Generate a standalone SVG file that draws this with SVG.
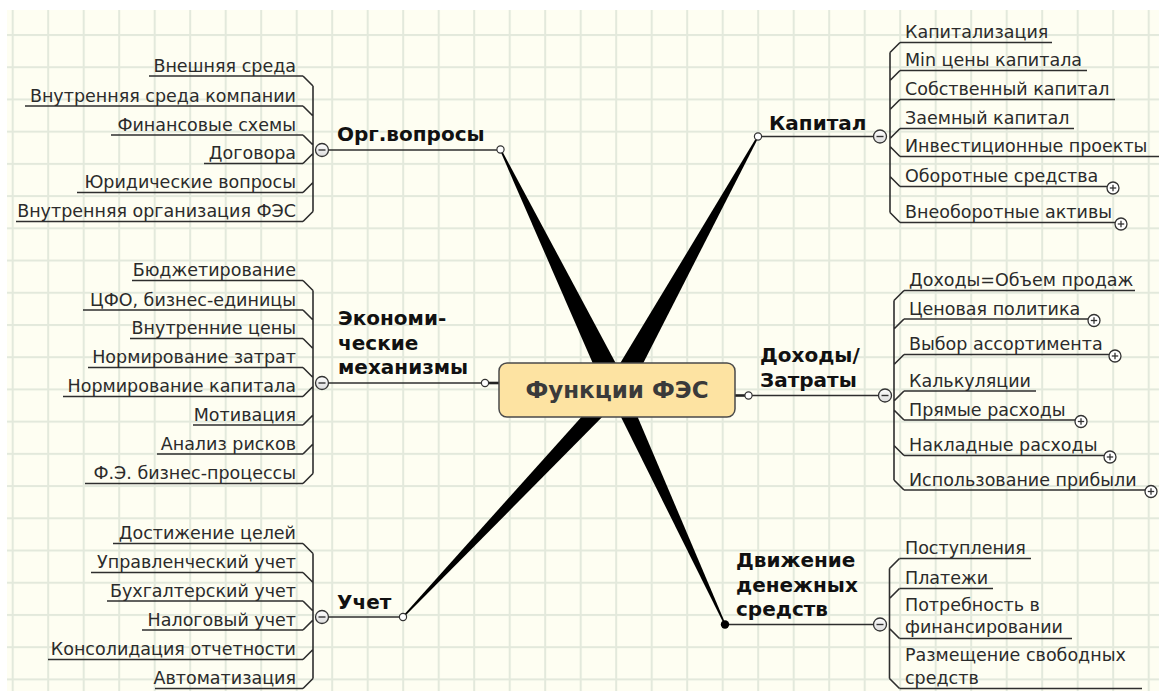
<svg xmlns="http://www.w3.org/2000/svg" width="1159" height="691" viewBox="0 0 1159 691">
  <defs>
    <pattern id="grid" x="11.7" y="34" width="35.5" height="32.22" patternUnits="userSpaceOnUse">
      <rect width="35.5" height="32.22" fill="#fefef2"/>
      <rect x="0" y="0" width="2" height="32.22" fill="#e3e9dc"/>
      <rect x="0" y="0" width="35.5" height="2" fill="#e3e9dc"/>
    </pattern>
    <linearGradient id="toggleFill" x1="0" y1="0" x2="0" y2="1">
      <stop offset="0" stop-color="#ffffff"/>
      <stop offset="1" stop-color="#dcdcdc"/>
    </linearGradient>
    <g id="collapse">
      <circle r="6.5" fill="url(#toggleFill)" stroke="#333" stroke-width="1.3"/>
      <line x1="-3.5" y1="0" x2="3.5" y2="0" stroke="#333" stroke-width="1.4"/>
    </g>
    <g id="expand">
      <circle r="6" fill="#ffffff" stroke="#333" stroke-width="1.3"/>
      <line x1="-3.2" y1="0" x2="3.2" y2="0" stroke="#333" stroke-width="1.3"/>
      <line x1="0" y1="-3.2" x2="0" y2="3.2" stroke="#333" stroke-width="1.3"/>
    </g>
    <circle id="joint" r="3.6" fill="#ffffff" stroke="#333" stroke-width="1.2"/>
  </defs>
  <style>
    .sub { font-family: "DejaVu Sans", Verdana, sans-serif; font-size: 17.5px; fill: #2b2b2b; }
    .head { font-family: "DejaVu Sans", Verdana, sans-serif; font-size: 20px; font-weight: bold; fill: #111111; }
    .core { font-family: "DejaVu Sans", Verdana, sans-serif; font-size: 23px; font-weight: bold; fill: #3a3a3a; }
    .ul { stroke: #2e2e2e; stroke-width: 1.6; fill: none; }
    .link { stroke: #2e2e2e; stroke-width: 1.6; fill: none; }
    .spoke { fill: #000000; }
    .stub { stroke: #222; stroke-width: 2.6; }
    .l { text-anchor: end; }
  </style>

  <!-- background sheet -->
  <rect width="1159" height="691" fill="#ffffff"/>
  <rect x="7" y="10" width="1152" height="681" fill="url(#grid)"/>

  <!-- connectors -->
  <g id="connectors">
    <!-- tapered spokes from the central topic -->
    <polygon class="spoke" points="627.4,385 501.2,149.2 499.8,149.8 606.6,395"/>
    <polygon class="spoke" points="626.7,395.4 758.7,136.9 757.3,136.1 607.3,384.6"/>
    <polygon class="spoke" points="623.2,395.8 403.6,617.6 402.4,616.4 610.8,384.2"/>
    <polygon class="spoke" points="624.7,386.4 725.7,624.2 724.3,624.8 609.3,393.6"/>
    <line class="stub" x1="488" y1="383" x2="500" y2="383"/>
    <line class="stub" x1="734" y1="395.5" x2="745.5" y2="395.5"/>

    <!-- main topic lines -->
    <line class="link" x1="328" y1="150" x2="497" y2="150"/>
    <line class="link" x1="328" y1="383" x2="481.5" y2="383"/>
    <line class="link" x1="328" y1="617" x2="399.5" y2="617"/>
    <line class="link" x1="761.5" y1="136.5" x2="873.5" y2="136.5"/>
    <line class="link" x1="752" y1="395.5" x2="878.5" y2="395.5"/>
    <line class="link" x1="725" y1="624.5" x2="873.5" y2="624.5"/>

    <!-- Орг.вопросы bracket -->
    <path class="link" d="M313,86 V211.5 M303,76 L313,86 M303,106 L313,116 M303,135 L313,145 M303,163.5 L313,153.5 M303,192.5 L313,182.5 M303,221.5 L313,211.5"/>
    <!-- Экономические механизмы bracket -->
    <path class="link" d="M313,290.5 V473.5 M303,280.5 L313,290.5 M303,310 L313,320 M303,338.5 L313,348.5 M303,367.5 L313,377.5 M303,396.5 L313,386.5 M303,425 L313,415 M303,454 L313,444 M303,483.5 L313,473.5"/>
    <!-- Учет bracket -->
    <path class="link" d="M313,553.5 V678.5 M303,543.5 L313,553.5 M303,572.5 L313,582.5 M303,601 L313,611 M303,630 L313,620 M303,659.5 L313,649.5 M303,688.5 L313,678.5"/>
    <!-- Капитал bracket -->
    <path class="link" d="M890,52.5 V212.5 M900,42.5 L890,52.5 M900,70.5 L890,80.5 M900,99.5 L890,109.5 M900,128.5 L890,138.5 M900,156.5 L890,146.5 M900,186.5 L890,176.5 M900,222.5 L890,212.5"/>
    <!-- Доходы/Затраты bracket -->
    <path class="link" d="M894,300.5 V480 M904,290.5 L894,300.5 M904,319 L894,329 M904,354.5 L894,364.5 M904,391 L894,401 M904,420 L894,410 M904,455.5 L894,445.5 M904,490 L894,480"/>
    <!-- Движение денежных средств bracket -->
    <path class="link" d="M889.5,568.5 V678.5 M899.5,558.5 L889.5,568.5 M899.5,588.5 L889.5,598.5 M899.5,638.5 L889.5,628.5 M899.5,688.5 L889.5,678.5"/>

    <!-- joints at the spoke ends -->
    <use href="#joint" x="500.5" y="149.5"/>
    <use href="#joint" x="485" y="383"/>
    <use href="#joint" x="403" y="617"/>
    <use href="#joint" x="758" y="136.5"/>
    <use href="#joint" x="748.5" y="395.5"/>
    <circle cx="725" cy="624.5" r="4.2" fill="#000"/>
  </g>

  <!-- central topic -->
  <g id="central">
    <rect x="499" y="363" width="236" height="54" rx="8" fill="#fde3a2" stroke="#4a4a4a" stroke-width="1.5"/>
    <text class="core" x="617" y="398" text-anchor="middle">Функции ФЭС</text>
  </g>

  <!-- main topics -->
  <g id="topic-org">
    <text class="head" x="337" y="141">Орг.вопросы</text>
    <use href="#collapse" x="322" y="150"/>
  </g>
  <g id="topic-econ">
    <text class="head" x="338" y="325">Экономи-</text>
    <text class="head" x="338" y="349.5">ческие</text>
    <text class="head" x="338" y="374">механизмы</text>
    <use href="#collapse" x="322" y="383"/>
  </g>
  <g id="topic-uchet">
    <text class="head" x="337" y="608.5">Учет</text>
    <use href="#collapse" x="322" y="617"/>
  </g>
  <g id="topic-capital">
    <text class="head" x="769" y="129.5">Капитал</text>
    <use href="#collapse" x="880" y="136.5"/>
  </g>
  <g id="topic-income">
    <text class="head" x="760" y="362">Доходы/</text>
    <text class="head" x="760" y="387">Затраты</text>
    <use href="#collapse" x="885" y="395.5"/>
  </g>
  <g id="topic-cash">
    <text class="head" x="736" y="567">Движение</text>
    <text class="head" x="736" y="591.5">денежных</text>
    <text class="head" x="736" y="615.5">средств</text>
    <use href="#collapse" x="880" y="624.5"/>
  </g>

  <!-- subtopics: Орг.вопросы -->
  <g id="org-1"><text class="sub l" x="296" y="71.5">Внешняя среда</text><line class="ul" x1="149" y1="76" x2="303" y2="76"/></g>
  <g id="org-2"><text class="sub l" x="296" y="101.5">Внутренняя среда компании</text><line class="ul" x1="25" y1="106" x2="303" y2="106"/></g>
  <g id="org-3"><text class="sub l" x="296" y="130.5">Финансовые схемы</text><line class="ul" x1="111" y1="135" x2="303" y2="135"/></g>
  <g id="org-4"><text class="sub l" x="296" y="159">Договора</text><line class="ul" x1="204" y1="163.5" x2="303" y2="163.5"/></g>
  <g id="org-5"><text class="sub l" x="296" y="188">Юридические вопросы</text><line class="ul" x1="77" y1="192.5" x2="303" y2="192.5"/></g>
  <g id="org-6"><text class="sub l" x="296" y="217">Внутренняя организация ФЭС</text><line class="ul" x1="16" y1="221.5" x2="303" y2="221.5"/></g>

  <!-- subtopics: Экономические механизмы -->
  <g id="econ-1"><text class="sub l" x="296" y="276">Бюджетирование</text><line class="ul" x1="132" y1="280.5" x2="303" y2="280.5"/></g>
  <g id="econ-2"><text class="sub l" x="296" y="305.5">ЦФО, бизнес-единицы</text><line class="ul" x1="83" y1="310" x2="303" y2="310"/></g>
  <g id="econ-3"><text class="sub l" x="296" y="334">Внутренние цены</text><line class="ul" x1="130" y1="338.5" x2="303" y2="338.5"/></g>
  <g id="econ-4"><text class="sub l" x="296" y="363">Нормирование затрат</text><line class="ul" x1="88" y1="367.5" x2="303" y2="367.5"/></g>
  <g id="econ-5"><text class="sub l" x="296" y="392">Нормирование капитала</text><line class="ul" x1="63" y1="396.5" x2="303" y2="396.5"/></g>
  <g id="econ-6"><text class="sub l" x="296" y="420.5">Мотивация</text><line class="ul" x1="193" y1="425" x2="303" y2="425"/></g>
  <g id="econ-7"><text class="sub l" x="296" y="449.5">Анализ рисков</text><line class="ul" x1="157" y1="454" x2="303" y2="454"/></g>
  <g id="econ-8"><text class="sub l" x="296" y="479">Ф.Э. бизнес-процессы</text><line class="ul" x1="85" y1="483.5" x2="303" y2="483.5"/></g>

  <!-- subtopics: Учет -->
  <g id="uchet-1"><text class="sub l" x="296" y="539">Достижение целей</text><line class="ul" x1="113" y1="543.5" x2="303" y2="543.5"/></g>
  <g id="uchet-2"><text class="sub l" x="296" y="568">Управленческий учет</text><line class="ul" x1="91" y1="572.5" x2="303" y2="572.5"/></g>
  <g id="uchet-3"><text class="sub l" x="296" y="596.5">Бухгалтерский учет</text><line class="ul" x1="107" y1="601" x2="303" y2="601"/></g>
  <g id="uchet-4"><text class="sub l" x="296" y="625.5">Налоговый учет</text><line class="ul" x1="142" y1="630" x2="303" y2="630"/></g>
  <g id="uchet-5"><text class="sub l" x="296" y="655">Консолидация отчетности</text><line class="ul" x1="48" y1="659.5" x2="303" y2="659.5"/></g>
  <g id="uchet-6"><text class="sub l" x="296" y="684">Автоматизация</text><line class="ul" x1="155" y1="688.5" x2="303" y2="688.5"/></g>

  <!-- subtopics: Капитал -->
  <g id="cap-1"><text class="sub" x="905" y="38">Капитализация</text><line class="ul" x1="900" y1="42.5" x2="1052" y2="42.5"/></g>
  <g id="cap-2"><text class="sub" x="905" y="66">Min цены капитала</text><line class="ul" x1="900" y1="70.5" x2="1087" y2="70.5"/></g>
  <g id="cap-3"><text class="sub" x="905" y="95">Собственный капитал</text><line class="ul" x1="900" y1="99.5" x2="1115" y2="99.5"/></g>
  <g id="cap-4"><text class="sub" x="905" y="124">Заемный капитал</text><line class="ul" x1="900" y1="128.5" x2="1074" y2="128.5"/></g>
  <g id="cap-5"><text class="sub" x="905" y="152">Инвестиционные проекты</text><line class="ul" x1="900" y1="156.5" x2="1159" y2="156.5"/></g>
  <g id="cap-6"><text class="sub" x="905" y="182">Оборотные средства</text><line class="ul" x1="900" y1="186.5" x2="1107" y2="186.5"/><use href="#expand" x="1113" y="188"/></g>
  <g id="cap-7"><text class="sub" x="905" y="218">Внеоборотные активы</text><line class="ul" x1="900" y1="222.5" x2="1115" y2="222.5"/><use href="#expand" x="1121" y="224"/></g>

  <!-- subtopics: Доходы/Затраты -->
  <g id="inc-1"><text class="sub" x="909" y="286">Доходы=Объем продаж</text><line class="ul" x1="904" y1="290.5" x2="1135" y2="290.5"/></g>
  <g id="inc-2"><text class="sub" x="909" y="314.5">Ценовая политика</text><line class="ul" x1="904" y1="319" x2="1088" y2="319"/><use href="#expand" x="1094" y="320.5"/></g>
  <g id="inc-3"><text class="sub" x="909" y="350">Выбор ассортимента</text><line class="ul" x1="904" y1="354.5" x2="1109" y2="354.5"/><use href="#expand" x="1115" y="356"/></g>
  <g id="inc-4"><text class="sub" x="909" y="386.5">Калькуляции</text><line class="ul" x1="904" y1="391" x2="1036" y2="391"/></g>
  <g id="inc-5"><text class="sub" x="909" y="415.5">Прямые расходы</text><line class="ul" x1="904" y1="420" x2="1075" y2="420"/><use href="#expand" x="1081" y="421.5"/></g>
  <g id="inc-6"><text class="sub" x="909" y="451">Накладные расходы</text><line class="ul" x1="904" y1="455.5" x2="1104" y2="455.5"/><use href="#expand" x="1110" y="457"/></g>
  <g id="inc-7"><text class="sub" x="909" y="485.5">Использование прибыли</text><line class="ul" x1="904" y1="490" x2="1145" y2="490"/><use href="#expand" x="1151" y="491.5"/></g>

  <!-- subtopics: Движение денежных средств -->
  <g id="cash-1"><text class="sub" x="905" y="554">Поступления</text><line class="ul" x1="899.5" y1="558.5" x2="1031" y2="558.5"/></g>
  <g id="cash-2"><text class="sub" x="905" y="584">Платежи</text><line class="ul" x1="899.5" y1="588.5" x2="993" y2="588.5"/></g>
  <g id="cash-3"><text class="sub" x="905" y="610.5">Потребность в</text><text class="sub" x="905" y="632.5">финансировании</text><line class="ul" x1="899.5" y1="638.5" x2="1072" y2="638.5"/></g>
  <g id="cash-4"><text class="sub" x="905" y="661">Размещение свободных</text><text class="sub" x="905" y="683.5">средств</text><line class="ul" x1="899.5" y1="688.5" x2="1142" y2="688.5"/></g>
</svg>
